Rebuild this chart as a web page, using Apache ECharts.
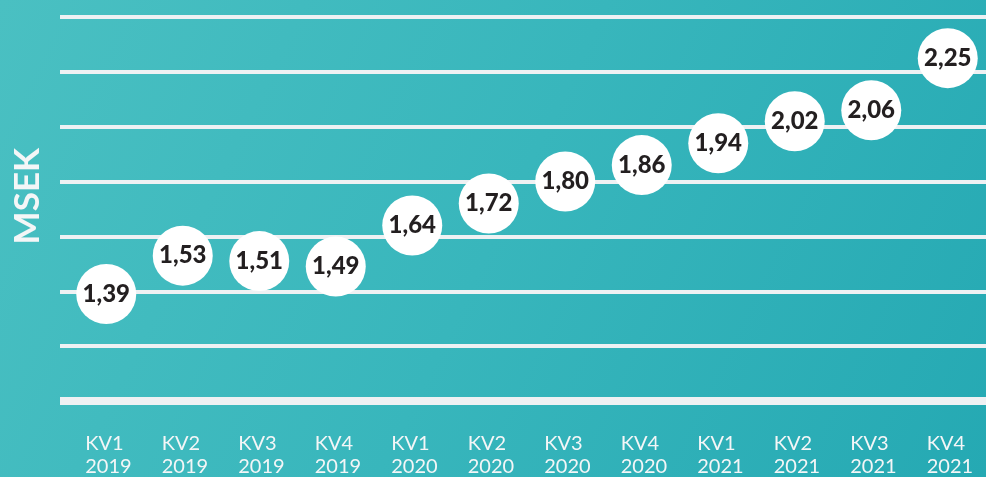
<!DOCTYPE html>
<html>
<head>
<meta charset="utf-8">
<script src="https://cdn.jsdelivr.net/npm/echarts@6/dist/echarts.min.js"></script>
<style>
html,body{margin:0;padding:0;}
#chart{width:986px;height:477px;}
</style>
</head>
<body>
<div id="chart"></div>
<script>
const quarters = ['KV1','KV2','KV3','KV4','KV1','KV2','KV3','KV4','KV1','KV2','KV3','KV4'];
const years = ['2019','2019','2019','2019','2020','2020','2020','2020','2021','2021','2021','2021'];
const values = [1.39, 1.53, 1.51, 1.49, 1.64, 1.72, 1.80, 1.86, 1.94, 2.02, 2.06, 2.25];
const yMin = 1.0, yMax = 2.4, yStep = 0.2;
const axisName = 'MSEK';

const categories = quarters.map((q, i) => q + '\n' + years[i]);
const chart = echarts.init(document.getElementById('chart'));
const lineColor = '#eef1f3';
chart.setOption({
  animation: false,
  backgroundColor: {
    type: 'linear', x: 0, y: 0, x2: 1, y2: 1,
    colorStops: [
      {offset: 0, color: '#4ac0c2'},
      {offset: 0.5, color: '#38b6bc'},
      {offset: 1, color: '#25a9b3'}
    ]
  },
  graphic: [{
    type: 'text', left: 10, top: 148,
    rotation: Math.PI / 2,
    style: {text: axisName, fill: '#f4f6f7', fontSize: 35, fontWeight: 'bold', fontFamily: 'Lato'},
    x: 24, y: 198, originX: 0, originY: 0
  }],
  grid: [
    {left: 60, right: 0, top: 17, bottom: 76, outerBoundsMode: 'none', containLabel: false},
    {left: 68, right: 0, top: 17, bottom: 76, outerBoundsMode: 'none', containLabel: false}
  ],
  xAxis: [
    {gridIndex: 0, type: 'value', min: 0, max: 1,
      axisLine: {show: true, lineStyle: {color: lineColor, width: 8, cap: 'butt'}},
      axisTick: {show: false}, axisLabel: {show: false}, splitLine: {show: false}},
    {gridIndex: 1, type: 'category', data: categories,
      axisLine: {show: false}, axisTick: {show: false}, splitLine: {show: false},
      axisLabel: {
        margin: 31,
        interval: 0,
        formatter: v => v.split('\n').map(s => '{a|' + s + '}').join('\n'),
        rich: {a: {width: 42, align: 'left', color: '#f4f6f7', fontSize: 20,
                   lineHeight: 23, fontFamily: 'Lato'}}
      }}
  ],
  yAxis: [
    {gridIndex: 0, type: 'value', min: yMin, max: yMax, interval: yStep,
      axisLine: {show: false}, axisTick: {show: false}, axisLabel: {show: false},
      splitLine: {show: true, lineStyle: {color: lineColor, width: 4}}},
    {gridIndex: 1, type: 'value', min: yMin, max: yMax, interval: yStep, show: false}
  ],
  series: [{
    type: 'scatter',
    xAxisIndex: 1, yAxisIndex: 1,
    data: values,
    symbol: 'circle',
    symbolSize: 60,
    itemStyle: {color: '#ffffff', opacity: 1},
    label: {
      show: true, position: 'inside',
      formatter: p => p.value.toFixed(2).replace('.', ','),
      color: '#231f20', fontSize: 24, fontWeight: 900, fontFamily: 'Lato'
    }
  }]
});
</script>
</body>
</html>
